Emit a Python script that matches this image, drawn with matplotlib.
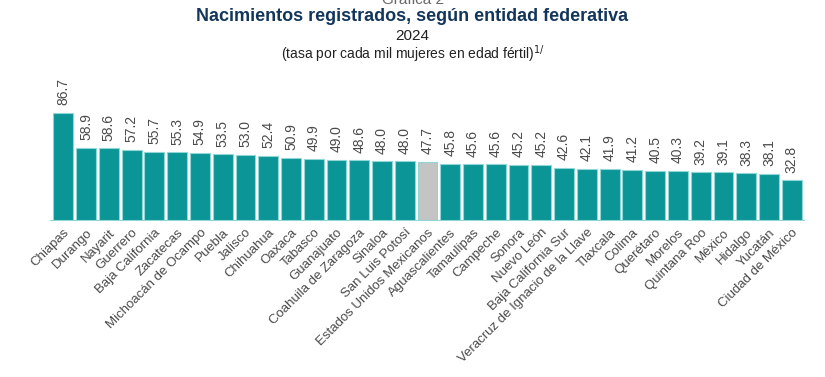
import matplotlib
matplotlib.use('Agg')
import matplotlib.pyplot as plt

# datos: tasa por cada mil mujeres en edad fértil, 2024
entidades = [
    'Chiapas', 'Durango', 'Nayarit', 'Guerrero', 'Baja California', 'Zacatecas',
    'Michoacán de Ocampo', 'Puebla', 'Jalisco', 'Chihuahua', 'Oaxaca', 'Tabasco',
    'Guanajuato', 'Coahuila de Zaragoza', 'Sinaloa', 'San Luis Potosí',
    'Estados Unidos Mexicanos', 'Aguascalientes', 'Tamaulipas', 'Campeche',
    'Sonora', 'Nuevo León', 'Baja California Sur',
    'Veracruz de Ignacio de la Llave', 'Tlaxcala', 'Colima', 'Querétaro',
    'Morelos', 'Quintana Roo', 'México', 'Hidalgo', 'Yucatán', 'Ciudad de México'
]
tasas = [86.7, 58.9, 58.6, 57.2, 55.7, 55.3, 54.9, 53.5, 53.0, 52.4, 50.9, 49.9,
         49.0, 48.6, 48.0, 48.0, 47.7, 45.8, 45.6, 45.6, 45.2, 45.2, 42.6, 42.1,
         41.9, 41.2, 40.5, 40.3, 39.2, 39.1, 38.3, 38.1, 32.8]
nacional = 'Estados Unidos Mexicanos'

TEAL = '#0c9597'
GRIS = '#c4c4c4'
TXT = '#4a4a4a'
fuente = ['Liberation Sans', 'DejaVu Sans']

fig = plt.figure(figsize=(8.25, 3.77), dpi=100)
ax = fig.add_axes([0.0602, 0.4138, 0.916, 0.3305])

colores = [GRIS if e == nacional else TEAL for e in entidades]
x = list(range(len(entidades)))
ax.bar(x, tasas, width=0.87, color=colores, edgecolor='#8fd6d6', linewidth=0.8)
ax.axhline(0, color='#8fd6d6', linewidth=1.5)

# etiquetas de valor
for i, v in zip(x, tasas):
    ax.text(i, v + 6, f'{v:.1f}', rotation=90, ha='center', va='bottom',
            fontsize=10, color=TXT, family=fuente, clip_on=False)

ax.set_xlim(-0.6, 32.6)
ax.set_ylim(0, 100)
ax.set_xticks(x)
ax.set_xticklabels(entidades, rotation=45, ha='right', va='top',
                   rotation_mode='anchor', fontsize=9.5, color=TXT, family=fuente)
ax.tick_params(axis='x', length=0, pad=4)
ax.set_yticks([])
for s in ax.spines.values():
    s.set_visible(False)

fig.text(0.5, 1.0, 'Gráfica 2', ha='center', va='center', fontsize=11,
         color='#666666', family=fuente)
fig.text(0.5, 0.955, 'Nacimientos registrados, según entidad federativa',
         ha='center', va='center', fontsize=13, fontweight='bold',
         color='#13365a', family=fuente)
fig.text(0.5, 0.905, '2024', ha='center', va='center', fontsize=11,
         color='#222222', family=fuente)
fig.text(0.5, 0.855, '(tasa por cada mil mujeres en edad fértil)$^{1/}$',
         ha='center', va='center', fontsize=10, color='#222222', family=fuente)

fig.savefig('out.png', dpi=100, facecolor='white')
